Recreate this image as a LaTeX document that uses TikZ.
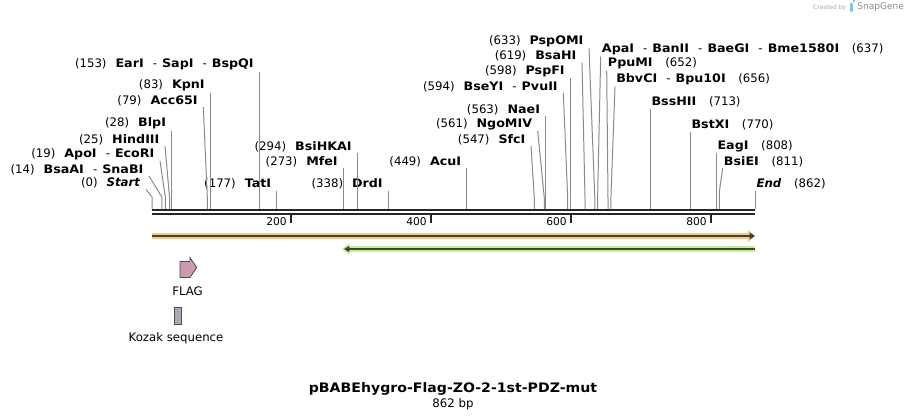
\documentclass[tikz,border=0pt]{standalone}
\usepackage{fontspec}
\setmainfont{DejaVu Sans}[BoldFeatures={FakeStretch=1.08}]
\usetikzlibrary{arrows.meta,calc}
\definecolor{sitegray}{HTML}{8A8A8A}
\definecolor{strand}{HTML}{262626}
\definecolor{featorange}{HTML}{FBCB7C}
\definecolor{featgreen}{HTML}{C2F28E}
\definecolor{featdark}{HTML}{404040}
\definecolor{flagpink}{HTML}{CC99B3}
\definecolor{kozakgray}{HTML}{A6ACB3}
\definecolor{logoblue}{HTML}{7CC6EE}
\newcommand{\cutsep}{\hspace{6.8pt}-\hspace{3.8pt}}
\newcommand{\lpos}[1]{(#1)\hspace{6.75pt}}
\newcommand{\rpos}[1]{\hspace{9.5pt}(#1)}
\tikzset{
   site/.style      = {-, draw=sitegray, line width=0.75pt},
   strandline/.style = {-, draw=strand},
   ruler/.style     = {-, draw=strand, line width=1.5pt},
   enzleft/.style   = {anchor=south east, inner xsep=4pt, inner ysep=0.75pt, font=\fontsize{8.8}{10}\selectfont},
   enzright/.style  = {anchor=south west, inner xsep=0.75pt, inner ysep=0.75pt, font=\fontsize{8.8}{10}\selectfont},
   ticklabel/.style = {anchor=east, inner sep=0pt, font=\fontsize{8}{10}\selectfont},
   featlabel/.style = {inner sep=0pt, font=\fontsize{8.8}{10}\selectfont},
}

\begin{document}
\begin{tikzpicture}[x=0.75pt,y=-0.75pt]
   \useasboundingbox (0,0) rectangle (908,419);

   % sequence strands
   \coordinate (topa) at (152,210);
   \coordinate (topb) at (755,210);
   \coordinate (bota) at (152,214);
   \coordinate (botb) at (755,214);
   \draw[strandline, line width=1.5pt] (topa) -- (topb);
   \draw[strandline, line width=2pt]   (bota) -- (botb);

   % ruler
   \coordinate (tk200) at (291,215);
   \coordinate (tk400) at (431,215);
   \coordinate (tk600) at (571,215);
   \coordinate (tk800) at (711,215);
   \node[ticklabel] (n200) at (287,222) {200};
   \node[ticklabel] (n400) at (427,222) {400};
   \node[ticklabel] (n600) at (567,222) {600};
   \node[ticklabel] (n800) at (707,222) {800};
   \draw[ruler] (tk200) -- ++(0,8);
   \draw[ruler] (tk400) -- ++(0,8);
   \draw[ruler] (tk600) -- ++(0,8);
   \draw[ruler] (tk800) -- ++(0,8);

   % cut sites on the strand
   \coordinate (c0)   at (152,209);
   \coordinate (c14)  at (161.8,209);
   \coordinate (c19)  at (165.3,209);
   \coordinate (c25)  at (169.5,209);
   \coordinate (c28)  at (171.6,209);
   \coordinate (c79)  at (207.3,209);
   \coordinate (c83)  at (210.3,209);
   \coordinate (c153) at (259.3,209);
   \coordinate (c177) at (276.7,209);
   \coordinate (c273) at (343.3,209);
   \coordinate (c294) at (357.3,209);
   \coordinate (c338) at (388.3,209);
   \coordinate (c449) at (466.7,209);
   \coordinate (c547) at (534.3,209);
   \coordinate (c561) at (544.3,209);
   \coordinate (c563) at (545.6,209);
   \coordinate (c594) at (567.7,209);
   \coordinate (c598) at (570.3,209);
   \coordinate (c619) at (585,209);
   \coordinate (c633) at (594.8,209);
   \coordinate (c637) at (597.6,209);
   \coordinate (c652) at (608,209);
   \coordinate (c656) at (610.9,209);
   \coordinate (c713) at (650.3,209);
   \coordinate (c770) at (690.3,209);
   \coordinate (c808) at (716.3,209);
   \coordinate (c811) at (719.3,209);
   \coordinate (c862) at (755.3,209);

   % labels left of their line
   \node[enzleft] (start)   at (146,189.5)   {\lpos{0}\textbf{\textit{Start}}};
   \node[enzleft] (bsaai)   at (149,176)     {\lpos{14}\textbf{BsaAI}\cutsep\textbf{SnaBI}};
   \node[enzleft] (apoi)    at (160,161)     {\lpos{19}\textbf{ApoI}\cutsep\textbf{EcoRI}};
   \node[enzleft] (hindiii) at (165,146)     {\lpos{25}\textbf{HindIII}};
   \node[enzleft] (blpi)    at (171.6,130.5) {\lpos{28}\textbf{BlpI}};
   \node[enzleft] (acci)    at (203.3,107)   {\lpos{79}\textbf{Acc65I}};
   \node[enzleft] (kpni)    at (210.3,92.5)  {\lpos{83}\textbf{KpnI}};
   \node[enzleft] (eari)    at (259.3,71.5)  {\lpos{153}\textbf{EarI}\cutsep\textbf{SapI}\cutsep\textbf{BspQI}};
   \node[enzleft] (tati)    at (276.7,190.5) {\lpos{177}\textbf{TatI}};
   \node[enzleft] (mfei)    at (343.3,168)   {\lpos{273}\textbf{MfeI}};
   \node[enzleft] (bsihkai) at (357.3,153)   {\lpos{294}\textbf{BsiHKAI}};
   \node[enzleft] (drdi)    at (388.3,190.5) {\lpos{338}\textbf{DrdI}};
   \node[enzleft] (acui)    at (466.7,168)   {\lpos{449}\textbf{AcuI}};
   \node[enzleft] (sfci)    at (531,146)     {\lpos{547}\textbf{SfcI}};
   \node[enzleft] (ngomiv)  at (537.7,131)   {\lpos{561}\textbf{NgoMIV}};
   \node[enzleft] (naei)    at (545.6,116)   {\lpos{563}\textbf{NaeI}};
   \node[enzleft] (bseyi)   at (563.3,93)    {\lpos{594}\textbf{BseYI}\cutsep\textbf{PvuII}};
   \node[enzleft] (pspfi)   at (570.3,78)    {\lpos{598}\textbf{PspFI}};
   \node[enzleft] (bsahi)   at (582,62.5)    {\lpos{619}\textbf{BsaHI}};
   \node[enzleft] (pspomi)  at (589,48.3)    {\lpos{633}\textbf{PspOMI}};

   % labels right of their line
   \node[enzright] (apai)   at (600.7,56.5)  {\textbf{ApaI}\cutsep\textbf{BanII}\cutsep\textbf{BaeGI}\cutsep\textbf{Bme1580I}\rpos{637}};
   \node[enzright] (ppumi)  at (606.7,70.5)  {\textbf{PpuMI}\rpos{652}};
   \node[enzright] (bbvci)  at (615,86.7)    {\textbf{BbvCI}\cutsep\textbf{Bpu10I}\rpos{656}};
   \node[enzright] (bsshii) at (650.3,108.5) {\textbf{BssHII}\rpos{713}};
   \node[enzright] (bstxi)  at (690.3,131.7) {\textbf{BstXI}\rpos{770}};
   \node[enzright] (eagi)   at (716.3,153)   {\textbf{EagI}\rpos{808}};
   \node[enzright] (bsiei)  at (722.7,168)   {\textbf{BsiEI}\rpos{811}};
   \node[enzright] (finish) at (755.3,190.5) {\textbf{\textit{End}}\rpos{862}};

   \draw[site] (start.south east)   -- (152,197)   -- (c0);
   \draw[site] (bsaai.south east)   -- (161.8,197) -- (c14);
   \draw[site] (apoi.south east)    -- (165.3,197) -- (c19);
   \draw[site] (hindiii.south east) -- (169.5,197) -- (c25);
   \draw[site] (blpi.south east)    -- (c28);
   \draw[site] (acci.south east)    -- (207.3,197) -- (c79);
   \draw[site] (kpni.south east)    -- (c83);
   \draw[site] (eari.south east)    -- (c153);
   \draw[site] (tati.south east)    -- (c177);
   \draw[site] (mfei.south east)    -- (c273);
   \draw[site] (bsihkai.south east) -- (c294);
   \draw[site] (drdi.south east)    -- (c338);
   \draw[site] (acui.south east)    -- (c449);
   \draw[site] (sfci.south east)    -- (534.3,198) -- (c547);
   \draw[site] (ngomiv.south east)  -- (544.3,198) -- (c561);
   \draw[site] (naei.south east)    -- (c563);
   \draw[site] (bseyi.south east)   -- (567.7,198) -- (c594);
   \draw[site] (pspfi.south east)   -- (c598);
   \draw[site] (bsahi.south east)   -- (585,198)   -- (c619);
   \draw[site] (pspomi.south east)  -- (594.8,198) -- (c633);
   \draw[site] (apai.south west)    -- (597.6,198) -- (c637);
   \draw[site] (ppumi.south west)   -- (608,198)   -- (c652);
   \draw[site] (bbvci.south west)   -- (610.9,198) -- (c656);
   \draw[site] (bsshii.south west)  -- (c713);
   \draw[site] (bstxi.south west)   -- (c770);
   \draw[site] (eagi.south west)    -- (c808);
   \draw[site] (bsiei.south west)   -- (719.3,192) -- (c811);
   \draw[site] (finish.south west)  -- (c862);

   % features
   \coordinate (orangea) at (152,236);
   \coordinate (orangeb) at (755,236);
   \coordinate (greena)  at (342,249);
   \coordinate (greenb)  at (755,249);
   \draw[draw=featorange, fill=featorange, line width=4pt, -{Triangle[length=5.5pt, width=9pt]}] (orangea) -- (orangeb);
   \draw[draw=featdark, fill=featdark, line width=1.1pt, -{Triangle[length=4pt, width=5pt]}] (orangea) -- (orangeb);
   \draw[draw=featgreen, fill=featgreen, line width=4.2pt, {Triangle[length=5.5pt, width=8.5pt]}-] (greena) -- (greenb);
   \draw[draw=featdark, fill=featdark, line width=1.1pt, {Triangle[length=4pt, width=4.5pt]}-] ($(greena)+(2,0)$) -- (greenb);

   \draw[fill=flagpink, draw=black!70, line width=0.6pt] (180,261.5) -- (190,261.5) -- (190,257.5) -- (196.7,267.5) -- (190,277.5) -- (180,277.5) -- cycle;
   \node[featlabel] (flag) at (187.5,291) {FLAG};
   \draw[fill=kozakgray, draw=black!70, line width=0.6pt] (174,307) rectangle (181,324);
   \node[featlabel] (kozak) at (176,338) {Kozak sequence};

   % title
   \node[inner sep=0pt, font=\bfseries\fontsize{9.8}{12}\selectfont] (title) at (453,389) {pBABEhygro-Flag-ZO-2-1st-PDZ-mut};
   \node[featlabel] (bp) at (453,404) {862 bp};

   % corner mark
   \node[anchor=east, inner sep=0pt, text=black!35, font=\fontsize{4.5}{5}\selectfont] (created) at (846.5,7.5) {Created by};
   \fill[logoblue, rounded corners=0.8pt] (850,2.5) rectangle (853,12);
   \fill[logoblue] (853,2.5) arc (90:-90:2.2 and 2.4) -- cycle;
   \node[anchor=west, inner sep=0pt, text=black!45, font=\fontsize{6.8}{7}\selectfont] (snapgene) at (857,7.5) {SnapGene};
\end{tikzpicture}
\end{document}
